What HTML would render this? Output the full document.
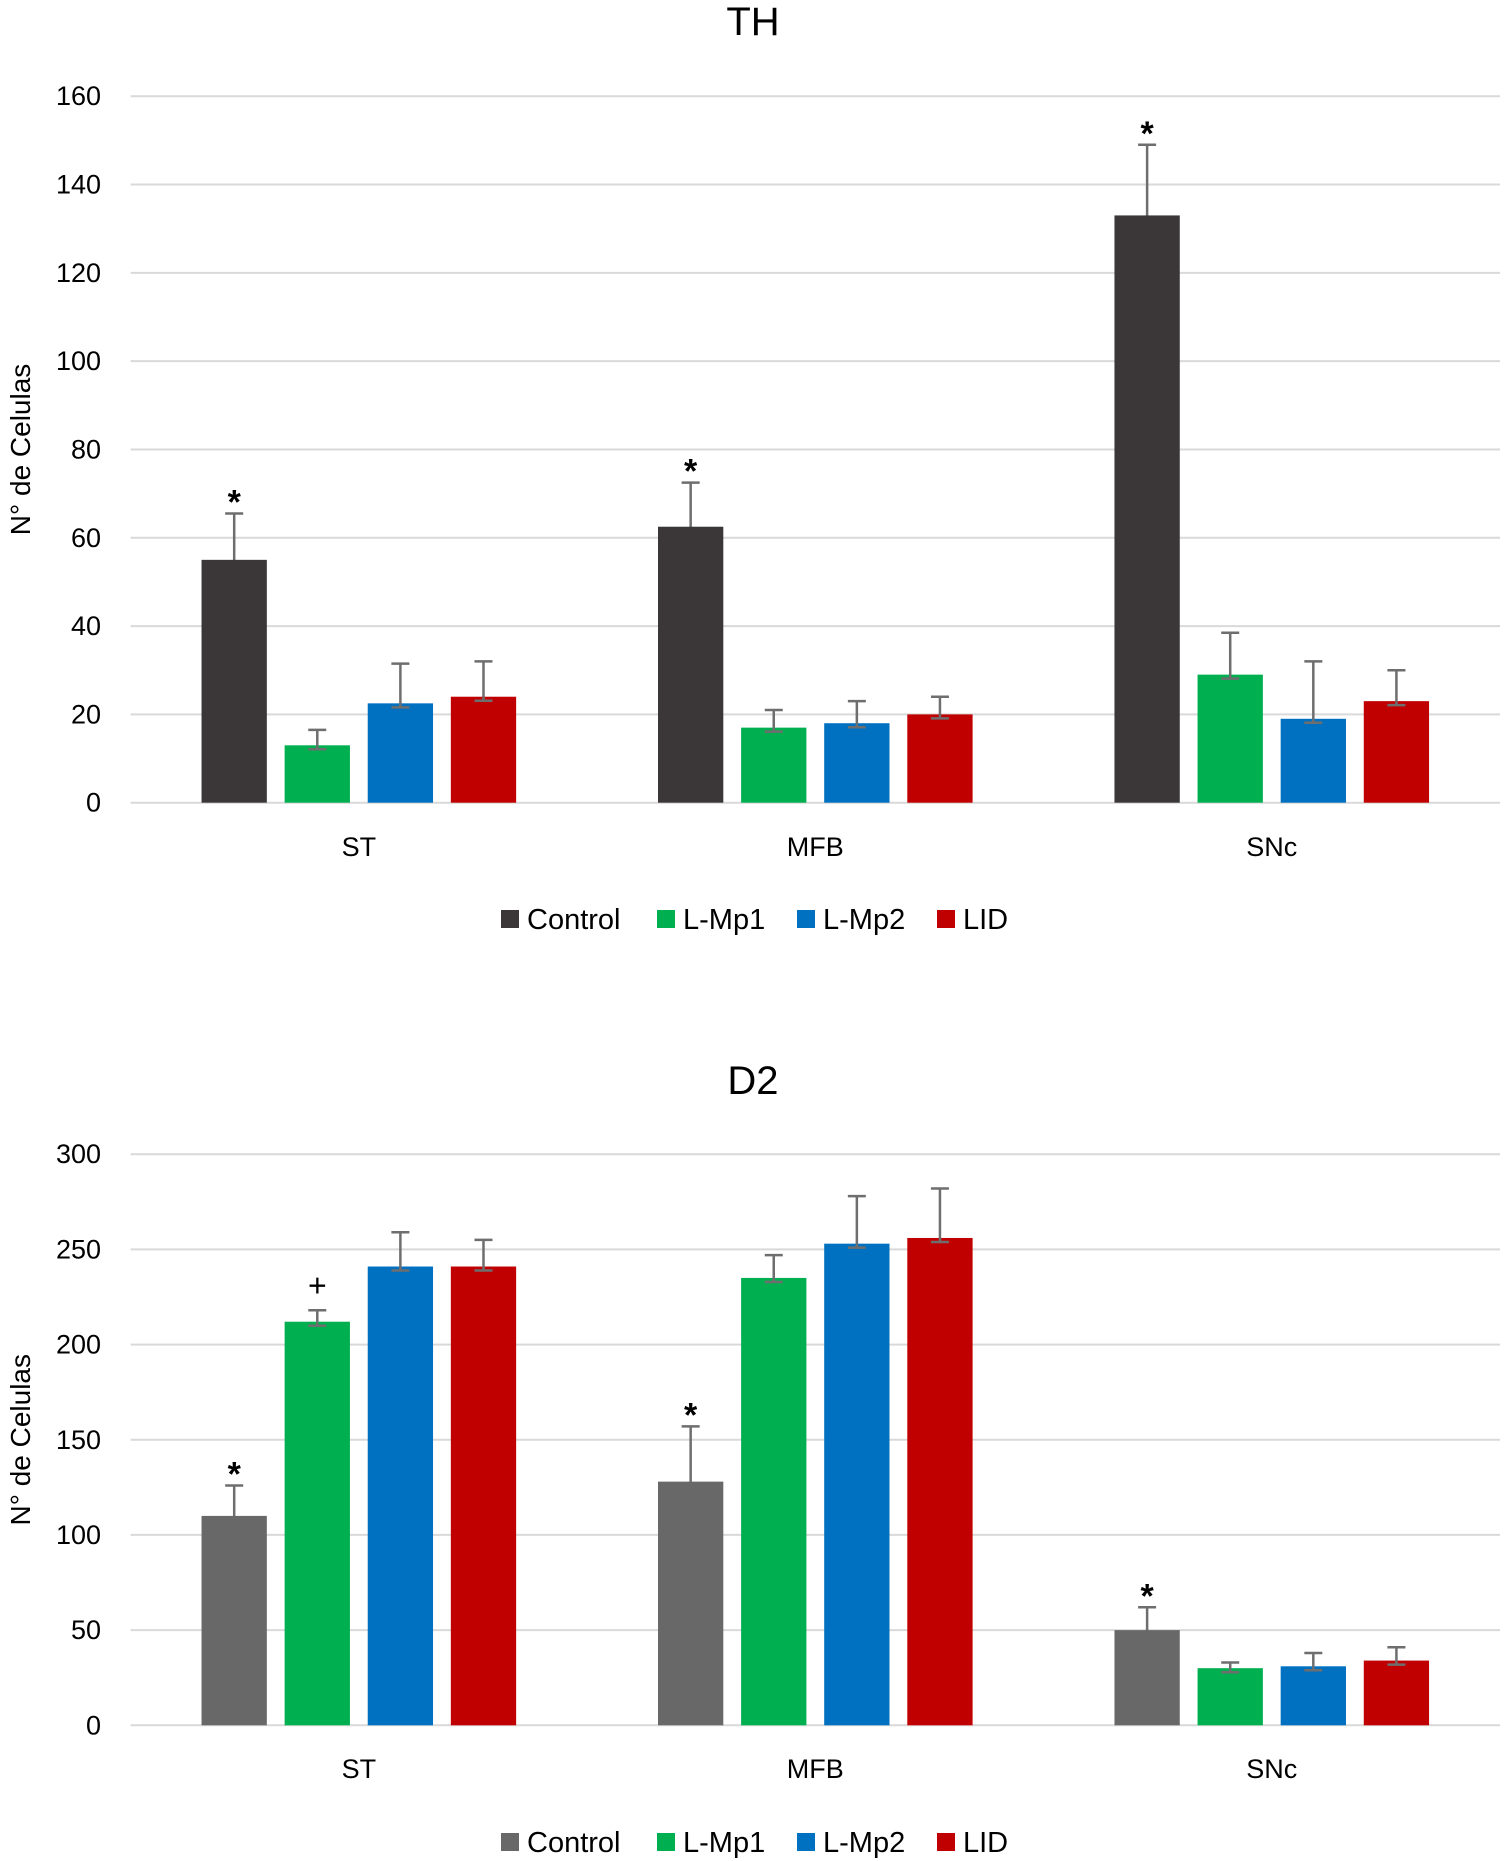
<!DOCTYPE html>
<html><head><meta charset="utf-8">
<style>
html,body{margin:0;padding:0;background:#fff;}
svg{display:block;font-family:"Liberation Sans",sans-serif;}
</style></head>
<body>
<svg id="chart" width="1508" height="1861" viewBox="0 0 1508 1861" xmlns="http://www.w3.org/2000/svg"></svg>
<script>
const categories = ["ST","MFB","SNc"];
const seriesNames = ["Control","L-Mp1","L-Mp2","LID"];
const thValues = [[55,62.5,133],[13,17,29],[22.5,18,19],[24,20,23]];
const thErrTop = [[65.5,72.5,149],[16.5,21,38.5],[31.5,23,32],[32,24,30]];
const thMarks = [["*","*","*"],["","",""],["","",""],["","",""]];
const thTicks = [0,20,40,60,80,100,120,140,160];
const d2Values = [[110,128,50],[212,235,30],[241,253,31],[241,256,34]];
const d2ErrTop = [[126,157,62],[218,247,33],[259,278,38],[255,282,41]];
const d2Marks = [["*","*","*"],["+","",""],["","",""],["","",""]];
const d2Ticks = [0,50,100,150,200,250,300];

const svg = document.getElementById('chart');
const NS = 'http://www.w3.org/2000/svg';
function mk(tag, attrs, parent){
  const e = document.createElementNS(NS, tag);
  for (const k in attrs) e.setAttribute(k, attrs[k]);
  (parent||svg).appendChild(e);
  return e;
}
const X0 = 130.6, X1 = 1500, band = (X1 - X0)/3;
const barW = 65.3, pitch = 83.1;

function drawChart(opt){
  const g = mk('g', {});
  
  
  const y = v => opt.y0 - (v - opt.ticks[0]) / (opt.ticks[opt.ticks.length-1] - opt.ticks[0]) * (opt.y0 - opt.yTop);
  const t = mk('text', {x: 753, y: opt.titleY, 'font-size': 40, 'text-anchor': 'middle', fill: '#000'}, g);
  t.textContent = opt.title;
  
  
  const yt = mk('text', {x: 0, y: 0, 'font-size': 28, 'text-anchor': 'middle', fill: '#000', transform: 'translate(30,' + ((opt.y0+opt.yTop)/2) + ') rotate(-90)'}, g);
  yt.textContent = 'N° de Celulas';
  
  
  opt.ticks.forEach(tv => {
    const gl = mk('line', {x1: X0, x2: X1, y1: y(tv), y2: y(tv), stroke: '#d9d9d9', 'stroke-width': 2}, g);
    
    
    const tl = mk('text', {x: 101, y: y(tv) + 9, 'font-size': 27, 'text-anchor': 'end', fill: '#000'}, g);
    tl.textContent = tv;
    
    
  });
  categories.forEach((c, ci) => {
    const cx = X0 + band*(ci + 0.5);
    const cl = mk('text', {x: cx, y: opt.catY, 'font-size': 27, 'text-anchor': 'middle', fill: '#000'}, g);
    cl.textContent = c;
    
    
    opt.values.forEach((ser, si) => {
      const v = ser[ci], et = opt.err[si][ci];
      const left = cx - 2*pitch + (pitch - barW)/2 + si*pitch;
      const mid = left + barW/2;
      const el = mk('line', {x1: mid, x2: mid, y1: y(et), y2: y(v) + 4, stroke: '#6e6e6e', 'stroke-width': 2.5}, g);
      
      
      const b = mk('rect', {x: left, y: y(v), width: barW, height: y(opt.ticks[0]) - y(v), fill: opt.colors[si]}, g);
      
      
      const cap = mk('line', {x1: mid-9, x2: mid+9, y1: y(et), y2: y(et), stroke: '#6e6e6e', 'stroke-width': 2.5}, g);
      
      
      if (si > 0) {
        const lc = mk('line', {x1: mid-9, x2: mid+9, y1: y(v)+4, y2: y(v)+4, stroke: '#6e6e6e', 'stroke-width': 2.5}, g);
        
        
        const vl = mk('line', {x1: mid, x2: mid, y1: y(v), y2: y(v)+4, stroke: '#6e6e6e', 'stroke-width': 2.5}, g);
        
        
      }
      const m = opt.marks[si][ci];
      if (m) {
        const mt = mk('text', {x: mid, y: y(et) - 14 + (m === '*' ? 14 : 0), 'font-size': m === '*' ? 34 : 32, 'text-anchor': 'middle', fill: '#000', 'font-weight': m === '*' ? 'bold' : 'normal'}, g);
        mt.textContent = m;
        
        
      }
    });
  });
  const lx = [501, 657, 797, 937];
  seriesNames.forEach((n, si) => {
    const lg = mk('g', {}, g);
    
    
    mk('rect', {x: lx[si], y: opt.legY - 9, width: 18, height: 18, fill: opt.colors[si]}, lg);
    const lt = mk('text', {x: lx[si] + 26, y: opt.legY + 10, 'font-size': 29, fill: '#000'}, lg);
    lt.textContent = n;
  });
}

drawChart({key:'th', title:'TH', titleY:35, y0:802.7, yTop:96.2, ticks:thTicks, values:thValues, err:thErrTop, marks:thMarks, catY:856, legY:919,
  colors:['#3b3738','#00b050','#0070c0','#c00000']});
drawChart({key:'d2', title:'D2', titleY:1094, y0:1725.3, yTop:1154.2, ticks:d2Ticks, values:d2Values, err:d2ErrTop, marks:d2Marks, catY:1778, legY:1842,
  colors:['#686868','#00b050','#0070c0','#c00000']});
</script>
</body></html>
